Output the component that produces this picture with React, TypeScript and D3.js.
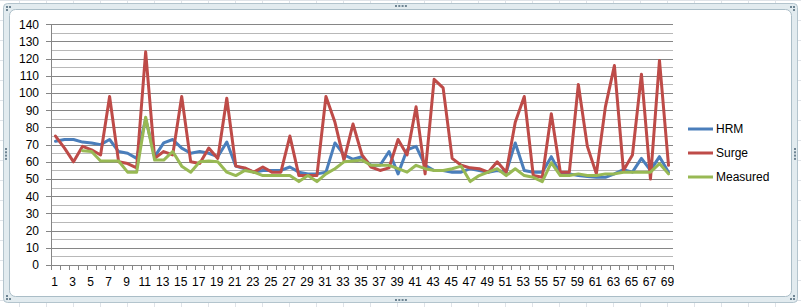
import React from "react";
import * as d3 from "d3";

const categories: number[] = Array.from({ length: 69 }, (_, i) => i + 1);

const hrm: (number | null)[] = [
  72, 73, 73, 71.5, 71, 70, 73, 66, 65, 62,
  85, 63, 71, 73, 68, 65, 66, 65, 63, 71.5,
  57.5, 56, 54, 55, 55, 55, 57, 54, 53, 53,
  54, 71, 64, 61.5, 63, 58, 58, 66, 53, 67,
  69, 58, 55, 55, 54, 54, 56, 55, 54, 55,
  54, 71, 55, 54, 54, 63, 53, 53, 52, 51.5,
  51, 51, 53, 55.5, 54, 62, 55, 63, 54,
];

const surge: (number | null)[] = [
  75, 68, 60, 69, 67, 64, 98, 60, 59, 56.5,
  124, 62, 66, 64, 98, 60, 59, 68, 62, 97,
  57.5, 56.5, 54, 57, 54, 54, 75, 52, 52, 52,
  98, 83, 61, 82, 64, 57, 55, 56.5, 73, 64,
  92, 53, 108, 103, 62, 58, 56.5, 56, 54, 60,
  54, 83, 98, 52, 51, 88, 54, 54, 105, 69,
  53, 92, 116, 55, 64, 111, 50, 119, 58,
];

const measured: (number | null)[] = [
  null, null, null, 66.5, 66, 60.5, 60.5, 60.5, 54, 54,
  86, 61, 61, 66, 57.5, 54, 60, 60.5, 60, 54,
  52, 55, 54, 52, 52, 52, 52, 48.5, 52, 48.5,
  53, 56, 60, 60.5, 61, 58, 58, 58, 56, 54,
  58, 56, 55, 55, 56, 57.5, 48.5, 52, 54, 56,
  52, 56, 52, 51, 48.5, 59.5, 52, 52, 53, 52,
  52, 53, 53, 54, 54, 54, 54, 59, 53,
];

const seriesNames: string[] = ["HRM", "Surge", "Measured"];
const seriesColors: string[] = ["#4a7ebb", "#be4b48", "#98b954"];
const seriesData = [hrm, surge, measured];

const yTicks: number[] = d3.range(0, 141, 10);
const yMinor: number[] = d3.range(5, 140, 10);

const W = 801;
const H = 307;
const FONT = "'Liberation Sans', Arial, sans-serif";

export default function App() {
  const x = d3
    .scaleBand<number>()
    .domain(categories)
    .range([51, 673])
    .paddingInner(0)
    .paddingOuter(0);
  const y = d3.scaleLinear().domain([0, 140]).range([265, 24.3]);
  const cx = (c: number) => (x(c) as number) + x.bandwidth() / 2;

  const line = d3
    .line<number | null>()
    .defined((d) => d !== null)
    .x((_, i) => cx(categories[i]))
    .y((d) => y(d as number));

  const tickEdges = [...categories.map((c) => x(c) as number), 673];

  // spreadsheet background lines
  const sheetV = d3.range(19, 801, 27);
  const sheetH = d3.range(0, 307, 20);

  const dotsH = (cxp: number, cyp: number) =>
    [0, 1, 2, 3].map((k) => (
      <rect key={`h${cxp}-${cyp}-${k}`} x={cxp - 6 + k * 3.3} y={cyp - 1} width={2} height={2} fill="#6f8593" />
    ));
  const dotsV = (cxp: number, cyp: number) =>
    [0, 1, 2, 3].map((k) => (
      <rect key={`v${cxp}-${cyp}-${k}`} x={cxp - 1} y={cyp - 6 + k * 3.3} width={2} height={2} fill="#6f8593" />
    ));
  const corner = (px: number, py: number, sx: number, sy: number) => (
    <g key={`c${px}-${py}`}>
      <rect x={px - 1} y={py - 1} width={2} height={2} fill="#6f8593" />
      <rect x={px - 1 + 3 * sx} y={py - 1} width={2} height={2} fill="#6f8593" />
      <rect x={px - 1} y={py - 1 + 3 * sy} width={2} height={2} fill="#6f8593" />
    </g>
  );

  return (
    <div style={{ position: "fixed", left: 0, top: 0, width: W, height: H }}>
      <svg width={W} height={H} style={{ display: "block" }}>
        <rect x={0} y={0} width={W} height={H} fill="#ffffff" />
        {sheetV.map((v) => (
          <line key={`sv${v}`} x1={v + 0.5} x2={v + 0.5} y1={0} y2={H} stroke="#dfe3e8" />
        ))}
        {sheetH.map((v) => (
          <line key={`sh${v}`} x1={0} x2={W} y1={v + 0.5} y2={v + 0.5} stroke="#dfe3e8" />
        ))}
        {/* chart frame */}
        <rect x={3.5} y={3.5} width={794} height={299} rx={4} fill="#e2ebef" stroke="#b3c4cd" />
        <rect x={9.5} y={9.5} width={782} height={287} rx={6} fill="#ffffff" stroke="#aabdc7" />
        {corner(7, 7, 1, 1)}
        {corner(794, 7, -1, 1)}
        {corner(7, 299, 1, -1)}
        {corner(794, 299, -1, -1)}
        {dotsH(401, 6)}
        {dotsH(401, 300)}
        {dotsV(6, 154)}
        {dotsV(795, 154)}

        {/* gridlines */}
        {yMinor.map((v) => (
          <line key={`mi${v}`} x1={51} x2={673} y1={Math.round(y(v)) + 0.5} y2={Math.round(y(v)) + 0.5} stroke="#b8b8b8" />
        ))}
        {yTicks.map((v) => (
          <line key={`ma${v}`} x1={46} x2={673} y1={Math.round(y(v)) + 0.5} y2={Math.round(y(v)) + 0.5} stroke="#868686" />
        ))}
        {/* axes */}
        <line x1={51.5} x2={51.5} y1={y(140)} y2={265.5} stroke="#868686" />
        <line x1={51} x2={673} y1={265.5} y2={265.5} stroke="#868686" />
        {tickEdges.map((t, i) => (
          <line key={`xt${i}`} x1={Math.round(t) + 0.5} x2={Math.round(t) + 0.5} y1={265} y2={270} stroke="#868686" />
        ))}
        {yTicks.map((v) => (
          <text key={`yl${v}`} x={39} y={y(v) + 4.3} textAnchor="end" fontFamily={FONT} fontSize={12} fill="#000">
            {v}
          </text>
        ))}
        {categories
          .filter((c) => c % 2 === 1)
          .map((c) => (
            <text key={`xl${c}`} x={cx(c) - 1} y={286} textAnchor="middle" fontFamily={FONT} fontSize={12} fill="#000">
              {c}
            </text>
          ))}

        {/* series */}
        {seriesData.map((s, k) => (
          <path
            key={seriesNames[k]}
            d={line(s) || ""}
            fill="none"
            stroke={seriesColors[k]}
            strokeWidth={3}
            strokeLinejoin="round"
            strokeLinecap="round"
          />
        ))}

        {/* legend */}
        {seriesNames.map((n, k) => {
          const ly = 129 + k * 24;
          return (
            <g key={`lg${n}`}>
              <line x1={688} x2={713} y1={ly} y2={ly} stroke={seriesColors[k]} strokeWidth={3} />
              <text x={716} y={ly + 4.3} fontFamily={FONT} fontSize={12} fill="#000">
                {n}
              </text>
            </g>
          );
        })}
      </svg>
    </div>
  );
}
